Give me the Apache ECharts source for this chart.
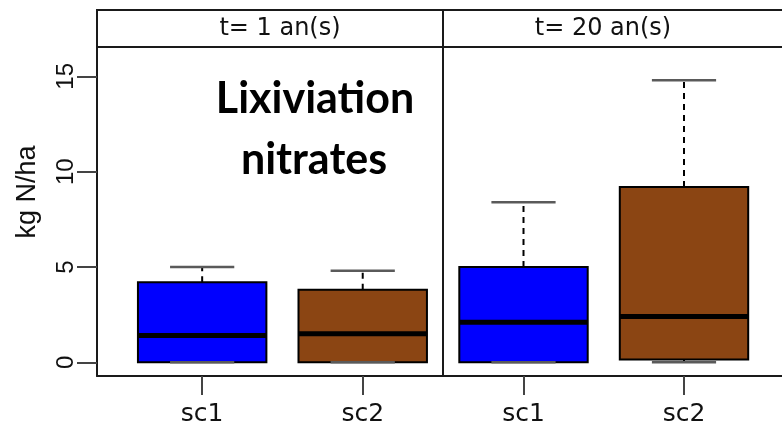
<!DOCTYPE html>
<html>
<head>
<meta charset="utf-8">
<script src="https://cdn.jsdelivr.net/npm/echarts@6/dist/echarts.min.js"></script>
<style>
  html, body { margin: 0; padding: 0; background: #ffffff; }
  #chart { width: 782px; height: 424px; }
</style>
</head>
<body>
<div id="chart"></div>
<script>
// Scenarios shown in each panel
const categories = ['sc1', 'sc2'];
// Panel strip labels
const panelTitles = ['t= 1 an(s)', 't= 20 an(s)'];
// Box statistics per scenario: [min, Q1, median, Q3, max]  (kg N/ha)
const statsYear1 = [[0, 0, 1.4, 4.2, 5.0], [0, 0, 1.5, 3.8, 4.8]];
const statsYear20 = [[0, 0, 2.1, 5.0, 8.4], [0, 0.15, 2.4, 9.2, 14.8]];
// Y axis tick values
const yTicks = [0, 5, 10, 15];
const yTitle = 'kg N/ha';
const boxColors = ['#0000ff', '#8b4513'];
const noteLines = ['Lixiviation', 'nitrates'];

const frameColor = '#1a1a1a';

function toRows(stats) {
  return stats.map((s, i) => [i + 1].concat(s));
}

function renderBox(params, api) {
  const x = api.value(0);
  const v = [1, 2, 3, 4, 5].map(i => api.value(i));
  const half = api.size([0.4, 0])[0];
  const capHalf = half / 2;
  const cx = api.coord([x, 0])[0];
  const py = val => api.coord([x, val])[1];
  const yMin = py(v[0]), yQ1 = py(v[1]), yMed = py(v[2]), yQ3 = py(v[3]), yMax = py(v[4]);
  const whisker = { stroke: '#000', lineWidth: 2, lineDash: [6, 5] };
  const cap = { stroke: '#5a5a5a', lineWidth: 2.5 };
  return {
    type: 'group',
    children: [
      { type: 'line', shape: { x1: cx, y1: yQ3, x2: cx, y2: yMax }, style: whisker },
      { type: 'line', shape: { x1: cx, y1: yQ1, x2: cx, y2: yMin }, style: whisker },
      {
        type: 'rect',
        shape: { x: cx - half, y: yQ3, width: half * 2, height: yQ1 - yQ3 },
        style: { fill: boxColors[params.dataIndex], stroke: '#000', lineWidth: 2 }
      },
      { type: 'line', shape: { x1: cx - half, y1: yMed, x2: cx + half, y2: yMed }, style: { stroke: '#000', lineWidth: 5 } },
      { type: 'line', shape: { x1: cx - capHalf, y1: yMax, x2: cx + capHalf, y2: yMax }, style: cap },
      { type: 'line', shape: { x1: cx - capHalf, y1: yMin, x2: cx + capHalf, y2: yMin }, style: cap }
    ]
  };
}

function xAxisFor(gridIndex, min, max) {
  return {
    type: 'value',
    gridIndex: gridIndex,
    min: min,
    max: max,
    splitLine: { show: false },
    axisLine: { show: true, onZero: false, lineStyle: { color: frameColor, width: 2 } },
    axisTick: { show: true, length: 19, inside: false, customValues: [1, 2], lineStyle: { color: '#444', width: 2 } },
    axisLabel: {
      customValues: [1, 2],
      formatter: val => categories[Math.round(val) - 1],
      fontFamily: 'DejaVu Sans',
      fontSize: 25,
      color: '#111',
      margin: 26
    }
  };
}

const yMin = -0.72, yMax = 16.54;

const chart = echarts.init(document.getElementById('chart'), null, { renderer: 'canvas' });
chart.setOption({
  animation: false,
  backgroundColor: '#ffffff',
  grid: [
    { left: 97, top: 47, width: 346, height: 329, show: false, outerBoundsMode: 'none', containLabel: false },
    { left: 443, top: 47, width: 339, height: 329, show: false, outerBoundsMode: 'none', containLabel: false }
  ],
  xAxis: [xAxisFor(0, 0.345, 2.5), xAxisFor(1, 0.4984, 2.6106)],
  yAxis: [
    {
      type: 'value',
      gridIndex: 0,
      min: yMin,
      max: yMax,
      splitLine: { show: false },
      axisLine: { show: true, onZero: false, lineStyle: { color: frameColor, width: 2 } },
      axisTick: { show: true, length: 20, customValues: yTicks, lineStyle: { color: '#444', width: 2 } },
      axisLabel: {
        customValues: yTicks,
        rotate: 90,
        fontFamily: 'Liberation Sans',
        fontSize: 24,
        color: '#111',
        margin: 19
      }
    },
    {
      type: 'value',
      gridIndex: 1,
      min: yMin,
      max: yMax,
      splitLine: { show: false },
      axisLine: { show: true, onZero: false, lineStyle: { color: frameColor, width: 2 } },
      axisTick: { show: false },
      axisLabel: { show: false }
    }
  ],
  series: [
    { type: 'custom', xAxisIndex: 0, yAxisIndex: 0, data: toRows(statsYear1), encode: { x: 0, y: [1, 2, 3, 4, 5] }, renderItem: renderBox, clip: true },
    { type: 'custom', xAxisIndex: 1, yAxisIndex: 1, data: toRows(statsYear20), encode: { x: 0, y: [1, 2, 3, 4, 5] }, renderItem: renderBox, clip: true }
  ],
  graphic: [
    { type: 'rect', shape: { x: 97, y: 10, width: 346, height: 37 }, style: { fill: '#fff', stroke: frameColor, lineWidth: 2 } },
    { type: 'rect', shape: { x: 443, y: 10, width: 346, height: 37 }, style: { fill: '#fff', stroke: frameColor, lineWidth: 2 } },
    { type: 'text', x: 280, y: 29, style: { text: panelTitles[0], font: '24px "DejaVu Sans"', fill: '#111', textAlign: 'center', textVerticalAlign: 'middle' } },
    { type: 'text', x: 603, y: 29, style: { text: panelTitles[1], font: '24px "DejaVu Sans"', fill: '#111', textAlign: 'center', textVerticalAlign: 'middle' } },
    { type: 'text', x: 28, y: 192, rotation: Math.PI / 2, style: { text: yTitle, font: '27px "Liberation Sans"', fill: '#111', textAlign: 'center', textVerticalAlign: 'middle' } },
    { type: 'text', x: 315, y: 99, style: { text: noteLines[0], font: 'bold 43px Lato', fill: '#000', textAlign: 'center', textVerticalAlign: 'middle' } },
    { type: 'text', x: 314, y: 160, style: { text: noteLines[1], font: 'bold 43px Lato', fill: '#000', textAlign: 'center', textVerticalAlign: 'middle' } }
  ]
});
</script>
</body>
</html>
